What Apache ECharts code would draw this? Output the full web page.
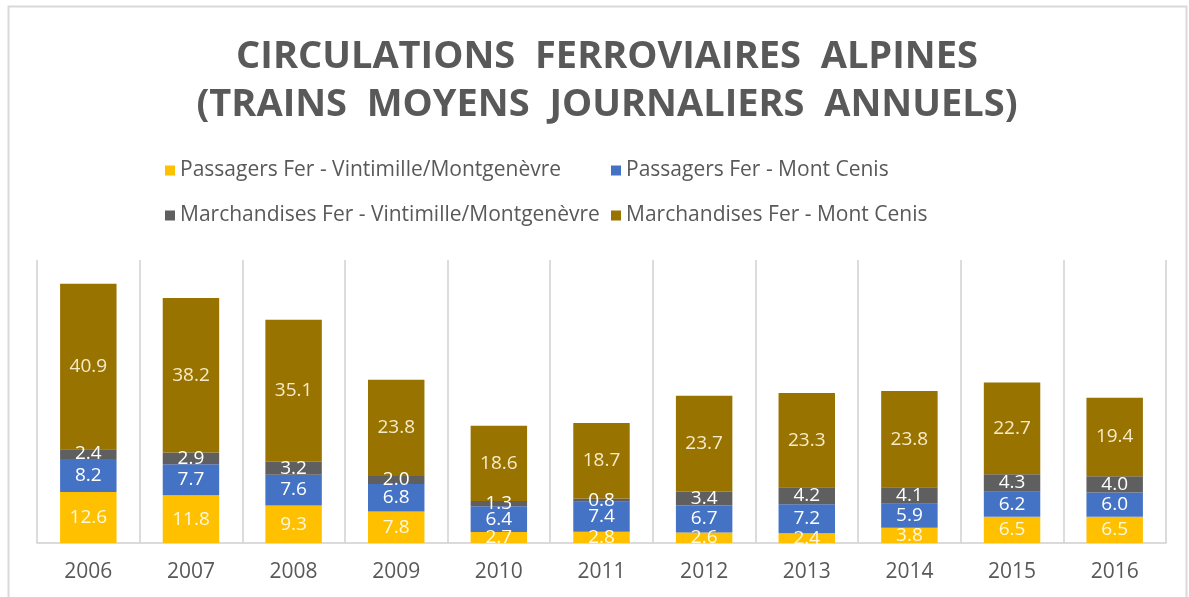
<!DOCTYPE html>
<html>
<head>
<meta charset="utf-8">
<script src="https://cdn.jsdelivr.net/npm/echarts@6/dist/echarts.min.js"></script>
<style>
  html, body { margin: 0; padding: 0; background: #fff; }
  #container { width: 1189px; height: 597px; }
</style>
</head>
<body>
<div id="container"></div>
<script>
var years = ['2006', '2007', '2008', '2009', '2010', '2011', '2012', '2013', '2014', '2015', '2016'];
var passVintimille = [12.6, 11.8, 9.3, 7.8, 2.7, 2.8, 2.6, 2.4, 3.8, 6.5, 6.5];
var passMontCenis = [8.2, 7.7, 7.6, 6.8, 6.4, 7.4, 6.7, 7.2, 5.9, 6.2, 6.0];
var marchVintimille = [2.4, 2.9, 3.2, 2.0, 1.3, 0.8, 3.4, 4.2, 4.1, 4.3, 4.0];
var marchMontCenis = [40.9, 38.2, 35.1, 23.8, 18.6, 18.7, 23.7, 23.3, 23.8, 22.7, 19.4];

var names = [
    'Passagers Fer - Vintimille/Montgenèvre',
    'Passagers Fer - Mont Cenis',
    'Marchandises Fer - Vintimille/Montgenèvre',
    'Marchandises Fer - Mont Cenis'
];
var colors = ['#ffc000', '#4472c4', '#5f5f5f', '#997300'];
var font = '"Open Sans", "Noto Sans", sans-serif';

function barSeries(name, data, color, labelColor) {
    return {
        name: name,
        type: 'bar',
        stack: 'total',
        barWidth: '55%',
        data: data,
        itemStyle: { color: color },
        label: {
            show: true,
            position: 'inside',
            color: labelColor,
            fontFamily: font,
            fontSize: 19,
            formatter: function (p) { return p.value.toFixed(1); }
        }
    };
}

var myChart = echarts.init(document.getElementById('container'));
myChart.setOption({
    animation: false,
    color: colors,
    title: {
        text: 'CIRCULATIONS  FERROVIAIRES  ALPINES\n(TRAINS  MOYENS  JOURNALIERS  ANNUELS)',
        left: 602,
        textAlign: 'center',
        top: 28,
        textStyle: {
            fontFamily: font,
            fontSize: 38,
            fontWeight: 'bold',
            color: '#595959',
            lineHeight: 48
        }
    },
    legend: [{
        orient: 'vertical',
        left: 160,
        top: 155,
        itemGap: 24,
        itemWidth: 10,
        itemHeight: 10,
        icon: 'rect',
        data: [names[0], names[2]],
        textStyle: { fontFamily: font, fontSize: 21, color: '#595959' }
    }, {
        orient: 'vertical',
        left: 606,
        top: 155,
        itemGap: 24,
        itemWidth: 10,
        itemHeight: 10,
        icon: 'rect',
        data: [names[1], names[3]],
        textStyle: { fontFamily: font, fontSize: 21, color: '#595959' }
    }],
    graphic: [{
        type: 'rect',
        shape: { x: 8.5, y: 6.5, width: 1178, height: 620 },
        style: { fill: 'none', stroke: '#d9d9d9', lineWidth: 2 }
    }],
    grid: { left: 37, right: 23, top: 260, bottom: 54 },
    xAxis: {
        type: 'category',
        data: years,
        axisLine: { lineStyle: { color: '#d0d0d0', width: 1.5 } },
        axisTick: { show: false },
        splitLine: { show: true, lineStyle: { color: '#d0d0d0', width: 1.5 } },
        axisLabel: {
            margin: 19,
            fontFamily: font,
            fontSize: 21,
            color: '#595959'
        }
    },
    yAxis: {
        type: 'value',
        min: 0,
        max: 70,
        show: false
    },
    series: [
        barSeries(names[0], passVintimille, colors[0], '#fff8e0'),
        barSeries(names[1], passMontCenis, colors[1], '#ffffff'),
        barSeries(names[2], marchVintimille, colors[2], '#ffffff'),
        barSeries(names[3], marchMontCenis, colors[3], '#f6ebc8')
    ]
});
</script>
</body>
</html>
